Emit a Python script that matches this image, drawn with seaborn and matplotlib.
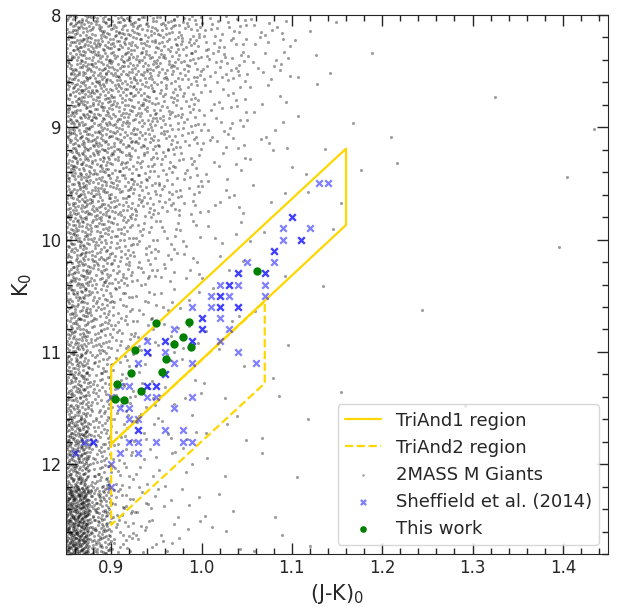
import numpy as np
import pandas as pd
import matplotlib
matplotlib.use('Agg')
import matplotlib.pyplot as plt
import seaborn as sns
from matplotlib.ticker import MultipleLocator

# TriAnd selection regions in (J-K)0, K0
triand1_jk = [0.90, 1.16, 1.16, 0.90, 0.90]
triand1_k = [11.13, 9.19, 9.87, 11.82, 11.13]
triand2_jk = [0.90, 1.07, 1.07, 0.90, 0.90]
triand2_k = [11.82, 10.55, 11.28, 12.54, 11.82]

# Sheffield et al. (2014) giants (repeats = overlapping marks)
sheff_jk = [1.13, 1.14, 1.10, 1.10, 1.09, 1.12, 1.09, 1.11, 1.11, 1.08, 1.08, 1.08,
            1.05, 1.07, 1.07, 1.04, 1.04, 1.07, 1.02, 1.03, 1.03, 1.04, 1.07,
            1.01, 1.02, 1.02, 1.03, 0.99, 1.01, 1.02, 1.02, 1.04, 1.04,
            1.00, 1.00, 1.02, 0.97, 1.00, 1.00, 1.03, 1.02, 0.94, 0.96, 0.96,
            0.99, 0.99, 1.04, 0.94, 0.94, 0.96, 0.93, 0.97, 0.99, 1.06, 0.96, 0.96,
            0.91, 0.92, 0.94, 0.94, 0.95, 0.95, 0.90, 0.94, 0.95, 0.99,
            0.91, 0.92, 0.97, 0.92, 0.93, 0.93, 0.93, 0.96, 0.98,
            0.87, 0.88, 0.88, 0.92, 0.93, 0.95, 0.98, 0.99, 0.86, 0.91, 0.93,
            0.90, 0.90]
sheff_k = [9.5, 9.5, 9.8, 9.8, 9.9, 9.9, 10.0, 10.0, 10.0, 10.1, 10.1, 10.2,
           10.2, 10.3, 10.3, 10.3, 10.3, 10.4, 10.4, 10.4, 10.4, 10.4, 10.5,
           10.5, 10.5, 10.5, 10.5, 10.6, 10.6, 10.6, 10.6, 10.6, 10.6,
           10.7, 10.7, 10.7, 10.8, 10.8, 10.8, 10.8, 10.9, 10.9, 10.9, 10.9,
           10.9, 10.9, 11.0, 11.0, 11.0, 11.0, 11.1, 11.1, 11.1, 11.1, 11.2, 11.2,
           11.3, 11.3, 11.3, 11.3, 11.3, 11.3, 11.4, 11.4, 11.4, 11.4,
           11.5, 11.5, 11.5, 11.6, 11.6, 11.7, 11.7, 11.7, 11.7,
           11.8, 11.8, 11.8, 11.8, 11.8, 11.8, 11.8, 11.8, 11.9, 11.9, 11.9,
           12.0, 12.2]

# this work
ours_jk = [1.061, 0.950, 0.986, 0.980, 0.970, 0.988, 0.926, 0.961, 0.922,
           0.956, 0.906, 0.933, 0.904, 0.914]
ours_k = [10.28, 10.74, 10.73, 10.87, 10.93, 10.96, 10.98, 11.06, 11.19,
          11.18, 11.29, 11.35, 11.42, 11.43]

# 2MASS M giant cloud: star counts per colour/magnitude cell
bg_jk_edges = [0.85, 0.875, 0.90, 0.925, 0.95, 0.975, 1.00, 1.05, 1.10, 1.15, 1.20, 1.30, 1.45]
bg_k_edges = [8.0, 8.6, 9.2, 9.8, 10.4, 11.0, 11.6, 12.2, 12.8]
bg_counts = [
    [130, 115, 100, 85, 70, 55, 60, 28, 6, 1, 0, 0],
    [130, 110, 90, 75, 55, 38, 35, 13, 3, 1, 1, 2],
    [130, 105, 75, 55, 38, 25, 18, 6, 2, 2, 1, 1],
    [130, 90, 60, 32, 20, 12, 9, 3, 1, 0, 0, 1],
    [130, 75, 40, 20, 10, 6, 5, 2, 1, 0, 1, 0],
    [145, 65, 28, 13, 7, 5, 4, 2, 1, 1, 1, 0],
    [200, 75, 24, 12, 7, 5, 5, 2, 1, 0, 0, 0],
    [360, 140, 40, 18, 9, 6, 6, 3, 1, 0, 0, 0],
]


def halton(idx, base):
    out = np.zeros(len(idx))
    f = np.ones(len(idx))
    i = np.array(idx, dtype=np.int64)
    while np.any(i > 0):
        f = f / base
        out += f * (i % base)
        i = i // base
    return out


def spread_cell(x0, x1, y0, y1, n, offset):
    # even, deterministic spread of n stars in one cell (leaped Halton 3/2)
    i = (np.arange(n) + offset) * 31 + 7
    return x0 + halton(i, 3) * (x1 - x0), y0 + halton(i, 2) * (y1 - y0)


bg_x, bg_y = [], []
offset = 0
for r in range(len(bg_k_edges) - 1):
    for c in range(len(bg_jk_edges) - 1):
        n = bg_counts[r][c]
        if n == 0:
            continue
        xs, ys = spread_cell(bg_jk_edges[c], bg_jk_edges[c + 1],
                             bg_k_edges[r], bg_k_edges[r + 1], n, offset)
        offset += n + 37
        bg_x.extend(xs)
        bg_y.extend(ys)
bg = pd.DataFrame({'jk': bg_x, 'k': bg_y})
sheff = pd.DataFrame({'jk': sheff_jk, 'k': sheff_k})
ours = pd.DataFrame({'jk': ours_jk, 'k': ours_k})

sns.set_style('ticks')
plt.rcParams['font.family'] = ['DejaVu Sans']

fig, ax = plt.subplots(figsize=(6.17, 6.14), dpi=100)
fig.subplots_adjust(left=66 / 617, right=608 / 617, top=1 - 15 / 614, bottom=1 - 554 / 614)

sns.scatterplot(data=bg, x='jk', y='k', ax=ax, color='k', alpha=0.38, s=5,
                linewidth=0, label='2MASS M Giants', zorder=1)
ax.plot(triand1_jk, triand1_k, color='gold', lw=1.6, label='TriAnd1 region', zorder=2)
ax.plot(triand2_jk, triand2_k, color='gold', lw=1.6, ls='--', label='TriAnd2 region', zorder=2)
sns.scatterplot(data=sheff, x='jk', y='k', ax=ax, color='blue', alpha=0.5, marker='x',
                s=22, linewidth=1.6, label='Sheffield et al. (2014)', zorder=3)
sns.scatterplot(data=ours, x='jk', y='k', ax=ax, color='green', s=36, linewidth=0,
                label='This work', zorder=4)

ax.set_xlim(0.85, 1.45)
ax.set_ylim(12.8, 8)
ax.xaxis.set_major_locator(MultipleLocator(0.1))
ax.xaxis.set_minor_locator(MultipleLocator(0.02))
ax.yaxis.set_major_locator(MultipleLocator(1))
ax.yaxis.set_minor_locator(MultipleLocator(0.2))
ax.tick_params(which='both', direction='in', top=True, right=True, labelsize=12)
ax.tick_params(which='major', length=8, width=1)
ax.tick_params(which='minor', length=4, width=1)
ax.set_xlabel('(J-K)$_0$', fontsize=15)
ax.set_ylabel('K$_0$', fontsize=15)

handles, labels = ax.get_legend_handles_labels()
order = ['TriAnd1 region', 'TriAnd2 region', '2MASS M Giants', 'Sheffield et al. (2014)', 'This work']
hmap = dict(zip(labels, handles))
ax.legend([hmap[o] for o in order], order, loc='lower right', fontsize=13, markerscale=0.8)

fig.savefig('out.png', dpi=100)
